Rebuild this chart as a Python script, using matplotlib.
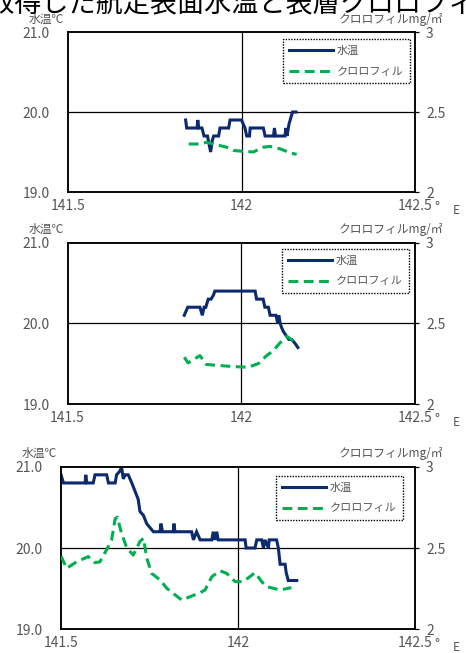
import matplotlib
matplotlib.use("Agg")
import matplotlib.pyplot as plt
import matplotlib.transforms as mtransforms

plt.rcParams['font.family'] = ['Noto Sans CJK JP', 'DejaVu Sans']

# Colours and label text
NAVY = "#0b2a6f"
GREEN = "#00b050"
GREY = "#555555"

title_text = "で取得した航走表面水温と表層クロロフィル"
temp_label = "水温℃"
chl_label = "クロロフィルmg/㎡"
legend_labels = ["水温", "クロロフィル"]
x_ticks = [141.5, 142.0, 142.5]
x_tick_labels = ["141.5", "142", "142.5"]
temp_ticks = [19.0, 20.0, 21.0]
temp_tick_labels = ["19.0", "20.0", "21.0"]
chl_ticks = [2.0, 2.5, 3.0]
chl_tick_labels = ["2", "2.5", "3"]

# Panel 1 (top)
lon_t1 = [141.839, 141.842, 141.872, 141.874, 141.877, 141.886, 141.892, 141.902, 141.911,
          141.916, 141.920, 141.934, 141.938, 141.963, 141.967, 142.000, 142.010, 142.015,
          142.023, 142.025, 142.063, 142.068, 142.092, 142.095, 142.098, 142.125, 142.128,
          142.131, 142.137, 142.147, 142.157]
temp1 = [19.9, 19.8, 19.8, 19.9, 19.8, 19.8, 19.7, 19.7, 19.5,
         19.65, 19.7, 19.7, 19.8, 19.8, 19.9, 19.9, 19.8, 19.7,
         19.7, 19.8, 19.8, 19.7, 19.7, 19.8, 19.7, 19.7, 19.8,
         19.7, 19.85, 20.0, 20.0]
lon_c1 = [141.848, 141.880, 141.899, 141.919, 141.938, 141.957, 141.976, 142.000, 142.034,
          142.063, 142.082, 142.111, 142.140, 142.159]
chl1 = [2.30, 2.30, 2.31, 2.30, 2.29, 2.28, 2.26, 2.255, 2.25,
        2.28, 2.285, 2.27, 2.245, 2.235]

# Panel 2 (middle)
lon_t2 = [141.836, 141.846, 141.881, 141.888, 141.893, 141.898, 141.905, 141.913, 141.920,
          141.924, 142.040, 142.044, 142.063, 142.068, 142.078, 142.083, 142.100, 142.105,
          142.108, 142.112, 142.116, 142.121, 142.129, 142.137, 142.145, 142.155, 142.163]
temp2 = [20.1, 20.2, 20.2, 20.1, 20.2, 20.2, 20.3, 20.3, 20.35,
         20.4, 20.4, 20.3, 20.3, 20.2, 20.2, 20.1, 20.1, 20.0,
         20.1, 20.0, 19.95, 19.9, 19.85, 19.8, 19.8, 19.75, 19.7]
lon_c2 = [141.836, 141.847, 141.881, 141.900, 141.929, 141.958, 141.996, 142.020, 142.049,
          142.073, 142.092, 142.112, 142.131, 142.150, 142.164]
chl2 = [2.29, 2.255, 2.30, 2.245, 2.24, 2.235, 2.23, 2.228, 2.25,
        2.30, 2.33, 2.38, 2.42, 2.39, 2.375]

# Panel 3 (bottom)
lon_t3 = [141.500, 141.507, 141.568, 141.570, 141.573, 141.591, 141.596, 141.629, 141.634,
          141.653, 141.657, 141.667, 141.671, 141.676, 141.681, 141.690, 141.700, 141.709,
          141.718, 141.723, 141.733, 141.742, 141.761, 141.780, 141.782, 141.787, 141.817,
          141.819, 141.822, 141.869, 141.874, 141.883, 141.893, 141.926, 141.930, 141.935,
          141.940, 141.944, 142.020, 142.023, 142.048, 142.053, 142.067, 142.072, 142.076,
          142.086, 142.088, 142.109, 142.114, 142.119, 142.133, 142.136, 142.142, 142.166]
temp3 = [20.9, 20.8, 20.8, 20.9, 20.8, 20.8, 20.9, 20.9, 20.8,
         20.8, 20.9, 20.95, 21.0, 20.85, 20.9, 20.9, 20.8, 20.7,
         20.6, 20.45, 20.4, 20.3, 20.2, 20.2, 20.3, 20.2, 20.2,
         20.3, 20.2, 20.2, 20.1, 20.2, 20.1, 20.1, 20.2, 20.1,
         20.2, 20.1, 20.1, 20.0, 20.0, 20.1, 20.1, 20.0, 20.1,
         20.0, 20.1, 20.1, 20.0, 19.8, 19.8, 19.7, 19.6, 19.6]
lon_c3 = [141.500, 141.516, 141.544, 141.577, 141.596, 141.610, 141.629, 141.643, 141.653,
          141.659, 141.671, 141.686, 141.704, 141.723, 141.733, 141.742, 141.756, 141.780,
          141.799, 141.817, 141.841, 141.864, 141.893, 141.907, 141.926, 141.949, 141.968,
          141.992, 142.015, 142.048, 142.067, 142.081, 142.119, 142.151]
chl3 = [2.45, 2.375, 2.415, 2.447, 2.41, 2.415, 2.49, 2.55, 2.68,
        2.69, 2.59, 2.50, 2.457, 2.54, 2.56, 2.44, 2.344, 2.303,
        2.252, 2.221, 2.18, 2.20, 2.225, 2.242, 2.323, 2.36, 2.344,
        2.293, 2.293, 2.348, 2.293, 2.262, 2.242, 2.256]

W, H = 466, 653
fig = plt.figure(figsize=(W / 100, H / 100), dpi=100)


def px_rect(left, top, right, bottom):
    """Axes rect from pixel edges"""
    return [left / W, 1 - bottom / H, (right - left) / W, (bottom - top) / H]


def draw_panel(rect, lon_t, temp, lon_c, chl, legend_offset):
    ax = fig.add_axes(rect)
    ax.set_xlim(141.5, 142.5)
    ax.set_ylim(19, 21)
    ax.axhline(20, color="black", lw=0.9, zorder=1)
    ax.axvline(142, color="black", lw=0.9, zorder=1)
    ln1, = ax.plot(lon_t, temp, color=NAVY, lw=2.2, solid_joinstyle="miter", zorder=3)

    ax.set_xticks(x_ticks)
    ax.set_xticklabels(x_tick_labels)
    ax.set_yticks(temp_ticks)
    ax.set_yticklabels(temp_tick_labels)
    ax.tick_params(axis="both", length=0, labelsize=10, labelcolor=GREY)
    ax.tick_params(axis="y", pad=13)
    ax.tick_params(axis="x", pad=5)
    for sp in ax.spines.values():
        sp.set_linewidth(1.1)

    ax2 = ax.twinx()
    ax2.set_ylim(2, 3)
    ln2, = ax2.plot(lon_c, chl, color=GREEN, lw=2.2, dashes=(3.2, 1.8), zorder=3)
    ax2.set_yticks(chl_ticks)
    ax2.set_yticklabels(chl_tick_labels)
    ax2.tick_params(axis="y", length=3, width=0.9, pad=5, labelsize=10, labelcolor=GREY)
    for sp in ax2.spines.values():
        sp.set_linewidth(1.1)

    # Axis titles above the plot
    tl = mtransforms.offset_copy(ax.transAxes, fig=fig, x=-4, y=13, units="dots")
    ax.text(0, 1, temp_label, transform=tl, ha="right", va="center", fontsize=8.5, color=GREY)
    tr = mtransforms.offset_copy(ax.transAxes, fig=fig, x=28, y=13, units="dots")
    ax.text(1, 1, chl_label, transform=tr, ha="right", va="center", fontsize=8.5, color=GREY)
    td = mtransforms.offset_copy(ax.transAxes, fig=fig, x=22, y=-9, units="dots")
    ax.text(1, 0, "°", transform=td, ha="center", va="top", fontsize=9.5, color=GREY)
    te = mtransforms.offset_copy(ax.transAxes, fig=fig, x=41, y=-18, units="dots")
    ax.text(1, 0, "E", transform=te, ha="center", va="center", fontsize=8.5, color=GREY)

    leg = ax2.legend([ln1, ln2], legend_labels, loc="upper right",
                     bbox_to_anchor=legend_offset, borderaxespad=0,
                     fontsize=8, handlelength=3.9, handletextpad=0.35,
                     labelspacing=0.95, borderpad=0.6, fancybox=False,
                     framealpha=1, edgecolor="black")
    for t in leg.get_texts():
        t.set_color(GREY)
    frame = leg.get_frame()
    frame.set_linestyle((0, (1, 1)))
    frame.set_linewidth(1.0)
    return ax


draw_panel(px_rect(68, 32, 415, 192), lon_t1, temp1, lon_c1, chl1, (1 - 5 / 347, 1 - 7 / 160))
draw_panel(px_rect(67.5, 242.7, 415, 404), lon_t2, temp2, lon_c2, chl2, (1 - 6 / 347, 1 - 6 / 161))
draw_panel(px_rect(61, 466.7, 415, 629.3), lon_t3, temp3, lon_c3, chl3, (1 - 12 / 354, 1 - 9 / 163))

# Title, cut off by the top edge like in the source image
fig.text(-39 / W, 1 + 10 / H, title_text, ha="left", va="top", fontsize=19.5, color="black")

fig.savefig("out.png", dpi=100)
